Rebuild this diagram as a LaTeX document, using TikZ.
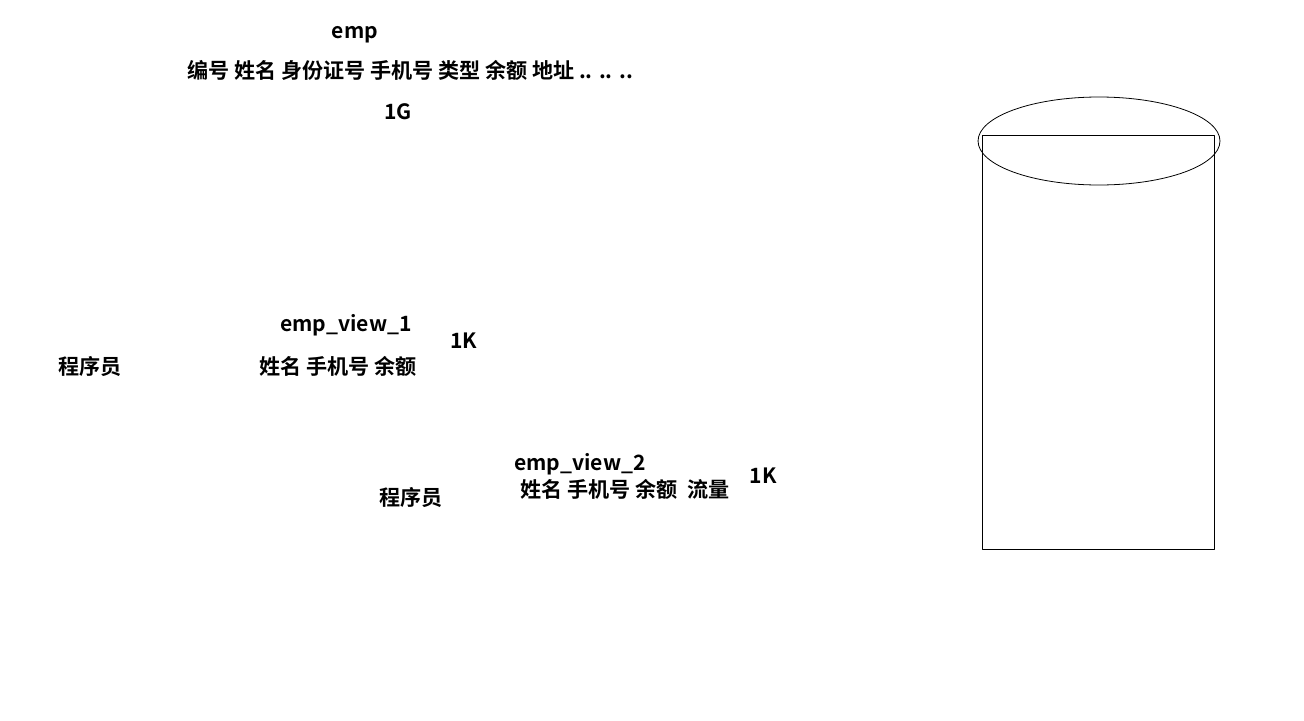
\documentclass[tikz,border=0pt]{standalone}
\usepackage{fontspec}
\setmainfont{Noto Sans CJK SC}[BoldFont={Noto Sans CJK SC Bold}]
\usetikzlibrary{positioning}
\tikzset{
  lbl/.style={font=\fontsize{12}{14}\selectfont\bfseries, inner sep=0pt, anchor=center},
}
\begin{document}
\begin{tikzpicture}[x=0.02cm, y=-0.02cm, line cap=round, line join=round]
        \useasboundingbox (0,0) rectangle (1304,720);
        % table emp
        \node[lbl] (emp) at (355,35) {emp};
        \node[lbl] (empcols) at (410,70) {编号 姓名 身份证号 手机号 类型 余额 地址 .. .. ..};
        \node[lbl] (empsize) at (398,112) {1G};
        % first view
        \node[lbl] (viewa) at (346,325) {emp\_view\_1};
        \node[lbl] (viewasize) at (464,341) {1K};
        \node[lbl] (coderA) at (90,366) {程序员};
        \node[lbl] (viewacols) at (338,366) {姓名 手机号 余额};
        % second view
        \node[lbl] (viewb) at (580,464) {emp\_view\_2};
        \node[lbl] (viewbcols) at (625,489) {姓名 手机号 余额\ \ 流量};
        \node[lbl] (viewbsize) at (763,476) {1K};
        \node[lbl] (coderB) at (411,497) {程序员};
        % database
        \draw[black, line width=0.5pt] (982,135) rectangle (1214,549);
        \draw[black, line width=0.45pt] (1099,141) ellipse (2.42cm and 0.88cm);
    \end{tikzpicture}
\end{document}
